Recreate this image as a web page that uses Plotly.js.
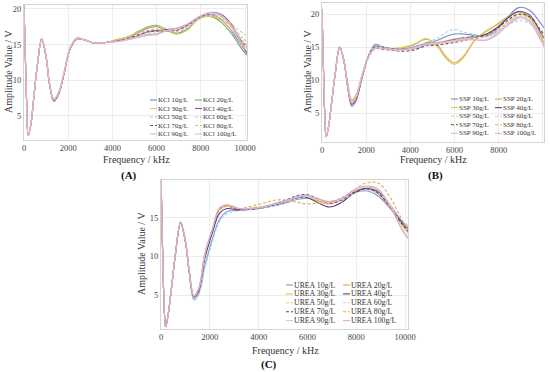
<!DOCTYPE html>
<html><head><meta charset="utf-8">
<script src="https://cdn.plot.ly/plotly-3.0.1.min.js"></script>
<style>html,body{margin:0;padding:0;background:#fff}#chart{width:550px;height:372px}</style>
</head><body><div id="chart"></div>
<script>
// Frequency grid (kHz)
const freq = [0,60,120,190,300,450,600,800,1000,1150,1350,1550,1800,2100,2400,2700,3200,3700,4200,4700,5200,5600,6000,6400,6900,7400,7900,8400,8900,9400,9900,10200];
const concLabels = ['10g/L','20g/L','30g/L','40g/L','50g/L','60g/L','70g/L','80g/L','90g/L','100g/L'];

// (A) KCl
const kcl10  = [20.5,13.5,6.8,2.3,3.6,7.8,12.0,15.8,13.3,9.6,7.2,8.0,10.8,14.6,15.9,15.7,15.2,15.3,15.6,16.0,16.7,17.3,17.5,17.1,16.6,17.2,18.6,19.2,18.6,16.9,14.6,13.4];
const kcl20  = [20.5,13.4,6.7,2.3,3.6,7.8,12.0,15.8,13.2,9.5,7.1,7.9,10.8,14.6,15.9,15.7,15.2,15.3,15.7,16.1,16.9,17.5,17.7,17.2,16.5,17.1,18.8,19.0,18.2,16.5,14.2,13.2];
const kcl30  = [20.5,13.5,6.8,2.3,3.6,7.8,12.0,15.8,13.3,9.6,7.3,8.1,10.9,14.6,15.9,15.7,15.2,15.3,15.7,16.1,16.8,17.4,17.6,17.1,16.5,17.1,18.6,19.0,18.5,17.0,15.3,14.7];
const kcl40  = [20.5,13.5,6.8,2.3,3.6,7.8,12.0,15.7,13.3,9.6,7.2,8.0,10.8,14.5,15.8,15.7,15.2,15.3,15.5,15.8,16.3,16.8,17.0,17.1,17.3,17.8,18.8,19.5,19.3,17.8,14.8,13.3];
const kcl50  = [20.5,13.5,6.8,2.3,3.6,7.8,12.0,15.8,13.3,9.7,7.3,8.1,10.9,14.6,15.9,15.7,15.2,15.3,15.5,15.9,16.3,16.7,16.8,16.9,17.0,17.6,18.6,19.1,18.9,17.9,16.6,16.0];
const kcl60  = [20.5,13.5,6.8,2.3,3.6,7.8,12.0,15.8,13.3,9.6,7.2,8.0,10.8,14.5,15.8,15.7,15.2,15.3,15.5,15.8,16.2,16.5,16.6,16.9,17.1,17.7,18.7,19.2,19.0,17.6,15.9,15.2];
const kcl70  = [20.5,13.5,6.8,2.3,3.6,7.8,12.0,15.8,13.3,9.6,7.1,7.9,10.7,14.5,15.8,15.7,15.2,15.3,15.5,15.9,16.4,16.8,16.9,16.9,17.0,17.7,18.8,19.3,19.1,17.5,15.2,14.4];
const kcl80  = [20.5,13.5,6.8,2.3,3.6,7.8,12.0,15.8,13.3,9.6,7.2,8.0,10.8,14.6,15.9,15.7,15.2,15.3,15.6,16.0,16.6,17.0,17.2,17.0,16.8,17.4,18.6,19.0,18.7,17.4,15.6,15.0];
const kcl90  = [20.5,13.5,6.8,2.3,3.6,7.8,12.0,15.8,13.4,9.7,7.3,8.1,10.9,14.6,15.9,15.7,15.2,15.3,15.4,15.7,16.1,16.4,16.5,16.9,17.3,17.9,18.9,19.5,19.2,17.4,14.7,13.8];
const kcl100 = [20.5,13.5,6.8,2.3,3.6,7.8,12.0,15.8,13.4,9.7,7.4,8.2,11.0,14.7,15.9,15.7,15.2,15.3,15.4,15.7,16.0,16.3,16.4,16.9,17.3,17.9,18.9,19.4,19.1,17.6,15.0,14.2];

// (B) SSP
const ssp10  = [20.8,12.5,5.2,1.4,3.0,7.0,11.0,15.0,12.7,9.1,6.0,6.9,10.1,13.7,15.4,15.1,14.7,14.7,15.1,15.6,16.0,16.6,17.0,17.0,16.8,16.7,17.6,19.5,21.0,20.6,18.6,17.3];
const ssp20  = [20.8,12.5,5.2,1.4,3.0,7.0,11.0,15.0,12.9,9.7,6.9,7.7,10.6,13.6,14.9,14.9,14.8,14.9,15.4,16.2,15.4,13.6,12.6,13.6,16.0,17.4,18.4,19.6,20.4,19.6,16.6,14.9];
const ssp30  = [20.8,12.5,5.2,1.4,3.0,7.0,11.0,15.0,12.9,9.8,7.0,7.8,10.6,13.5,14.8,14.9,14.8,15.0,15.5,16.3,15.2,13.3,12.4,13.4,15.9,17.3,18.3,19.4,20.3,19.4,16.4,14.7];
const ssp40  = [20.8,12.5,5.2,1.4,3.0,7.0,11.0,15.0,12.8,9.3,6.3,7.2,10.3,13.6,15.1,15.0,14.7,14.7,14.9,15.3,15.6,15.9,16.2,16.4,16.6,16.9,17.9,19.4,20.4,19.9,17.2,15.5];
const ssp50  = [20.8,12.5,5.2,1.4,3.0,7.0,11.0,15.0,12.8,9.4,6.4,7.3,10.4,13.6,15.0,14.9,14.6,14.6,14.8,15.4,15.7,16.0,16.3,16.4,16.6,16.8,17.6,18.9,20.0,19.4,16.8,15.2];
const ssp60  = [20.8,12.5,5.2,1.4,3.0,7.0,11.0,15.0,12.8,9.4,6.4,7.3,10.4,13.7,15.2,15.0,14.7,14.7,15.0,15.7,16.3,17.2,17.7,17.3,16.9,16.6,17.2,18.3,19.0,18.6,16.9,15.7];
const ssp70  = [20.8,12.5,5.2,1.4,3.0,7.0,11.0,15.0,12.8,9.4,6.4,7.3,10.3,13.4,14.8,14.7,14.5,14.4,14.6,15.2,15.3,15.5,15.7,16.0,16.4,16.9,17.8,19.1,20.0,19.6,17.6,16.3];
const ssp80  = [20.8,12.5,5.2,1.4,3.0,7.0,11.0,15.0,12.8,9.5,6.5,7.4,10.4,13.5,14.9,14.8,14.6,14.6,14.9,15.5,15.7,15.9,16.1,16.3,16.4,16.5,17.3,18.7,19.7,19.3,17.0,15.6];
const ssp90  = [20.8,12.5,5.2,1.4,3.0,7.0,11.0,15.0,12.8,9.5,6.6,7.5,10.5,13.5,14.8,14.8,14.6,14.6,14.9,15.4,15.6,15.8,16.0,16.2,16.2,16.1,17.0,18.5,19.6,19.0,16.2,14.4];
const ssp100 = [20.8,12.5,5.2,1.4,3.0,7.0,11.0,15.0,12.8,9.5,6.6,7.5,10.5,13.5,14.8,14.8,14.6,14.6,14.9,15.3,15.5,15.7,15.9,16.1,16.1,16.0,16.8,18.3,19.4,18.8,16.0,14.2];

// (C) UREA
const urea10  = [20.5,11.5,4.5,0.9,2.6,6.5,10.5,14.3,11.8,8.0,4.4,5.2,8.8,12.2,14.8,15.8,16.0,16.1,16.3,16.6,17.0,17.4,17.5,17.2,17.0,17.4,18.2,18.5,17.8,16.2,14.4,13.6];
const urea20  = [20.5,11.5,4.5,0.9,2.6,6.5,10.5,14.4,12.0,8.3,4.8,5.8,10.3,13.4,16.2,16.6,16.1,16.2,16.4,16.9,17.3,17.7,17.7,17.3,16.9,17.4,18.3,18.7,18.1,16.2,14.0,12.8];
const urea30  = [20.5,11.5,4.5,0.9,2.6,6.5,10.5,14.4,12.0,8.3,4.8,5.8,10.2,13.3,16.1,16.5,16.1,16.2,16.4,16.8,17.2,17.6,17.6,17.2,16.8,17.3,18.3,18.8,18.3,16.4,14.0,12.9];
const urea40  = [20.5,11.5,4.5,0.9,2.6,6.5,10.5,14.4,12.0,8.2,4.7,5.6,9.8,13.0,15.6,16.2,16.0,16.1,16.3,16.7,17.2,17.6,17.6,17.0,16.4,17.0,18.2,18.8,18.4,16.6,14.3,13.3];
const urea50  = [20.5,11.5,4.5,0.9,2.6,6.5,10.5,14.4,12.0,8.3,4.9,5.9,10.3,13.4,16.2,16.6,16.2,16.3,16.5,16.8,17.3,17.7,17.8,17.5,17.1,17.5,18.5,19.0,18.5,16.6,14.0,12.7];
const urea60  = [20.5,11.5,4.5,0.9,2.6,6.5,10.5,14.3,11.9,8.1,4.5,5.1,8.5,11.8,14.5,15.5,15.9,16.1,16.3,16.6,17.0,17.5,17.7,17.4,17.0,17.3,18.1,18.6,18.2,16.6,14.6,13.9];
const urea70  = [20.5,11.5,4.5,0.9,2.6,6.5,10.5,14.4,12.0,8.3,4.8,5.8,10.2,13.3,16.1,16.5,16.1,16.2,16.4,16.8,17.4,17.9,18.0,17.5,16.9,17.3,18.3,18.8,18.2,16.3,14.1,13.0];
const urea80  = [20.5,11.5,4.5,0.9,2.6,6.5,10.5,14.4,12.0,8.3,4.8,5.8,10.2,13.4,16.1,16.5,16.2,16.5,16.9,17.3,17.3,17.0,16.8,16.9,17.1,17.6,18.6,19.5,19.5,17.6,14.6,13.0];
const urea90  = [20.5,11.5,4.5,0.9,2.6,6.5,10.5,14.5,12.1,8.4,4.9,5.9,10.4,13.5,16.3,16.7,16.2,16.2,16.4,16.8,17.2,17.7,17.8,17.4,17.0,17.4,18.5,19.0,18.6,16.5,13.5,12.2];
const urea100 = [20.5,11.5,4.5,0.9,2.6,6.5,10.5,14.5,12.1,8.4,4.9,5.9,10.4,13.5,16.3,16.7,16.2,16.2,16.4,16.9,17.3,17.8,17.9,17.5,17.1,17.5,18.6,19.1,18.7,16.4,13.3,12.0];

const kclSeries  = [kcl10,kcl20,kcl30,kcl40,kcl50,kcl60,kcl70,kcl80,kcl90,kcl100];
const sspSeries  = [ssp10,ssp20,ssp30,ssp40,ssp50,ssp60,ssp70,ssp80,ssp90,ssp100];
const ureaSeries = [urea10,urea20,urea30,urea40,urea50,urea60,urea70,urea80,urea90,urea100];

const xTicks = [0,2000,4000,6000,8000,10000];
const yTicks = [5,10,15,20];

const colorsA = ['#7483c4','#66ad6e','#e3c85a','#8260a0','#c6d475','#a6cfea','#86466c','#e6b675','#cdbae4','#ecb0cc'];
const colorsB = ['#7988d4','#cca960','#e7c64a','#5f4184','#ccd872','#aad2f0','#744062','#e4b06a','#d1c2e8','#eaafcd'];
const colorsC = ['#7a98d4','#d2a96a','#e9c538','#5d3b84','#d4d46c','#acd6f2','#6d3e5c','#e4aa50','#d6c9e6','#dfaac8'];
const dashes = ['solid','solid','solid','solid','3px,2px','3px,2px','3px,2px','3px,2px','solid','solid'];

const W = 550, H = 372;
const fx = v => v / W, fy = v => 1 - v / H;
const SERIF = '"Liberation Serif", "Times New Roman", serif';

const panels = [
  {prefix:'KCl', series:kclSeries, colors:colorsA, ax:'', xdom:[24,247], ydom:[5,140], xr:[0,10090], yr:[1.62,20.56],
   leg:{c1:150,c2:195,top:100,dy:8.5,len:7,fs:7}, label:'(A)', lab:[129,175], xt:[136,159], yt:[8,72]},
  {prefix:'SSP', series:sspSeries, colors:colorsB, ax:'2', xdom:[322,544], ydom:[3,142], xr:[0,10050], yr:[0.6,21.7],
   leg:{c1:451,c2:495,top:99,dy:8.6,len:7,fs:7}, label:'(B)', lab:[435,175], xt:[433,159], yt:[307,72]},
  {prefix:'UREA', series:ureaSeries, colors:colorsC, ax:'3', xdom:[161,408], ydom:[180,329], xr:[0,10120], yr:[0.6,19.9],
   leg:{c1:286,c2:343,top:285,dy:8.9,len:7,fs:7.8}, label:'(C)', lab:[269,364], xt:[285,350], yt:[142,254]}
];

const traces = [], shapes = [], annotations = [];
const layout = {
  width: W, height: H, margin: {l:0,r:0,t:0,b:0},
  paper_bgcolor: '#ffffff', plot_bgcolor: '#ffffff', showlegend: false,
  font: {family: SERIF, color: '#333'}
};

panels.forEach(p => {
  const xa = 'x' + p.ax, ya = 'y' + p.ax;
  p.series.forEach((s, i) => {
    traces.push({
      x: freq, y: s, type: 'scatter', mode: 'lines', name: p.prefix + ' ' + concLabels[i],
      xaxis: xa, yaxis: ya, hoverinfo: 'name',
      line: {color: p.colors[i], width: 1.1, dash: dashes[i], shape: 'spline', smoothing: 1}
    });
    // manual two-column legend
    const col = i % 2, row = Math.floor(i / 2);
    const cx = col === 0 ? p.leg.c1 : p.leg.c2;
    const cy = p.leg.top + row * p.leg.dy;
    shapes.push({type:'line', xref:'paper', yref:'paper', x0:fx(cx), x1:fx(cx + p.leg.len), y0:fy(cy), y1:fy(cy),
      line:{color:p.colors[i], width:1.1, dash:dashes[i]}});
    annotations.push({xref:'paper', yref:'paper', x:fx(cx + p.leg.len + 0.3), y:fy(cy), xanchor:'left', yanchor:'middle',
      text: p.prefix + ' ' + concLabels[i], showarrow:false, borderpad:0, font:{family:SERIF, size:p.leg.fs, color:'#333'}});
  });
  const axCommon = {
    showgrid: true, gridcolor: '#ececec', gridwidth: 1, zeroline: false,
    showline: true, mirror: true, linecolor: '#d4d4d4', linewidth: 1, ticks: '',
    tickfont: {family: SERIF, size: 8.5, color: '#444'}, fixedrange: true
  };
  layout['xaxis' + p.ax] = Object.assign({}, axCommon, {
    domain: [fx(p.xdom[0]), fx(p.xdom[1])], range: p.xr, tickvals: xTicks, ticktext: xTicks.map(String), anchor: ya
  });
  layout['yaxis' + p.ax] = Object.assign({}, axCommon, {
    domain: [fy(p.ydom[1]), fy(p.ydom[0])], range: p.yr, tickvals: yTicks, ticktext: yTicks.map(String), anchor: xa
  });
  annotations.push({xref:'paper', yref:'paper', x:fx(p.xt[0]), y:fy(p.xt[1]), xanchor:'center', yanchor:'middle',
    text:'Frequency / kHz', showarrow:false, borderpad:0, font:{family:SERIF, size:10, color:'#333'}});
  annotations.push({xref:'paper', yref:'paper', x:fx(p.yt[0]), y:fy(p.yt[1]), xanchor:'center', yanchor:'middle',
    text:'Amplitude Value / V', textangle:-90, showarrow:false, borderpad:0, font:{family:SERIF, size:10, color:'#333'}});
  annotations.push({xref:'paper', yref:'paper', x:fx(p.lab[0]), y:fy(p.lab[1]), xanchor:'center', yanchor:'middle',
    text:'<b>' + p.label + '</b>', showarrow:false, borderpad:0, font:{family:SERIF, size:11, color:'#111'}});
});

layout.shapes = shapes;
layout.annotations = annotations;
Plotly.newPlot('chart', traces, layout, {displayModeBar: false, staticPlot: true});
</script>
</body></html>
